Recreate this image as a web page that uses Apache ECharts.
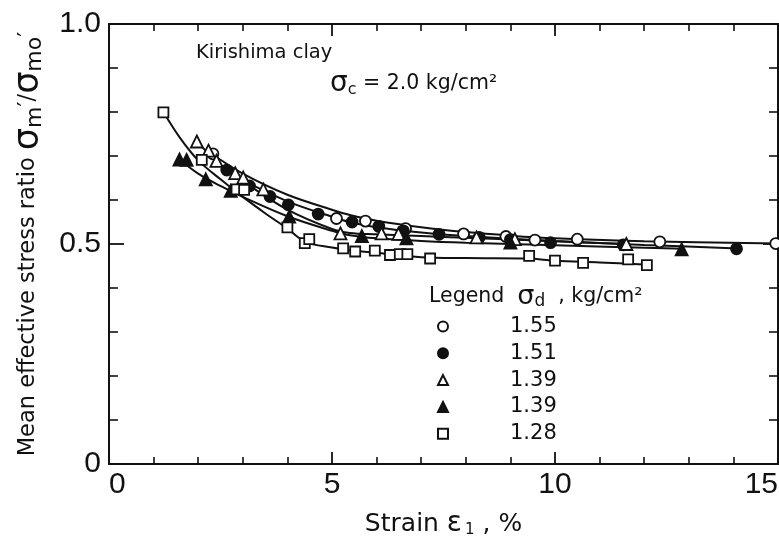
<!DOCTYPE html>
<html><head><meta charset="utf-8">
<script src="https://cdn.jsdelivr.net/npm/echarts/dist/echarts.min.js"></script>
<style>html,body{margin:0;padding:0;background:#fff}#c{width:779px;height:536px}</style>
</head><body><div id="c"></div>
<script>
// ---- data ----
const xTickLabels = ['0', '5', '10', '15'];
const yTickLabels = ['0', '0.5', '1.0'];
const legendLabels = ['1.55', '1.51', '1.39', '1.39', '1.28'];

// measured points [strain %, ratio]
const pts155 = [[2.33,0.705],[5.1,0.558],[5.75,0.552],[6.65,0.535],[7.95,0.523],[8.9,0.517],[9.55,0.509],[10.5,0.511],[12.35,0.505],[14.95,0.501]];
const pts151 = [[2.64,0.668],[3.15,0.632],[3.61,0.608],[4.02,0.589],[4.69,0.568],[5.45,0.55],[6.05,0.54],[6.6,0.53],[7.4,0.522],[8.3,0.515],[9.0,0.51],[9.9,0.503],[11.53,0.498],[14.07,0.489]];
const pts139o = [[1.97,0.733],[2.23,0.712],[2.41,0.689],[2.83,0.661],[3.01,0.651],[3.46,0.624],[5.19,0.524],[6.11,0.524],[6.49,0.523],[8.24,0.515],[9.1,0.511],[11.6,0.5]];
const pts139f = [[1.58,0.692],[1.74,0.691],[2.17,0.647],[2.73,0.621],[4.04,0.562],[5.67,0.518],[6.67,0.513],[9.0,0.503],[12.84,0.488]];
const pts128 = [[1.22,0.799],[2.08,0.691],[2.86,0.624],[3.03,0.623],[4.0,0.538],[4.39,0.502],[4.49,0.511],[5.25,0.49],[5.52,0.483],[5.96,0.485],[6.30,0.475],[6.52,0.477],[6.69,0.477],[7.20,0.467],[9.42,0.473],[10.0,0.462],[10.63,0.457],[11.64,0.465],[12.06,0.452]];

// fitted curves drawn in the figure
const curve155 = [[2.3,0.705],[3,0.66],[4,0.612],[5,0.578],[5.4,0.566],[6,0.553],[7,0.538],[8,0.527],[9,0.519],[10,0.513],[12,0.506],[15,0.501]];
const curve151 = [[2.6,0.67],[3,0.645],[4,0.597],[5,0.562],[5.4,0.55],[6,0.538],[7,0.526],[8,0.518],[10,0.507],[12,0.498],[14.1,0.49]];
const curve139o = [[1.95,0.735],[2.5,0.68],[3,0.643],[4,0.578],[5,0.534],[5.4,0.525],[6,0.522],[7,0.518],[8,0.514],[10,0.506],[11.6,0.5]];
const curve139f = [[1.55,0.695],[2,0.66],[2.5,0.632],[3,0.607],[4,0.563],[5,0.53],[5.4,0.52],[6,0.513],[7,0.507],[8,0.503],[10,0.497],[12.9,0.489]];
const curve128 = [[1.22,0.8],[1.6,0.74],[2,0.69],[2.5,0.647],[3,0.607],[3.5,0.57],[4,0.535],[4.4,0.505],[5,0.492],[5.4,0.486],[6,0.48],[7,0.47],[8,0.468],[9.4,0.467],[10,0.462],[11,0.458],[12.1,0.453]];

// ---- chart ----
const FONT = 'DejaVu Sans';
const INK = '#111';
const chart = echarts.init(document.getElementById('c'), null, {renderer: 'canvas'});

function axisCommon(extra) {
  return Object.assign({
    axisLine: {show: true, onZero: false, lineStyle: {color: INK, width: 2}},
    splitLine: {show: false},
    minorSplitLine: {show: false}
  }, extra);
}

const markerDefs = [
  {name: 's155', data: pts155, symbol: 'circle', size: 11, fill: '#fff'},
  {name: 's151', data: pts151, symbol: 'circle', size: 11, fill: INK},
  {name: 's139o', data: pts139o, symbol: 'triangle', size: 12, fill: '#fff'},
  {name: 's139f', data: pts139f, symbol: 'triangle', size: 12, fill: INK},
  {name: 's128', data: pts128, symbol: 'rect', size: 10, fill: '#fff'}
];
const curves = [curve155, curve151, curve139o, curve139f, curve128];

const series = [];
curves.forEach(c => series.push({
  type: 'line', data: c, smooth: 0.35, symbol: 'none', silent: true,
  lineStyle: {color: INK, width: 2}, z: 2
}));
markerDefs.forEach(m => series.push({
  type: 'scatter', name: m.name, data: m.data, symbol: m.symbol, symbolSize: m.size,
  itemStyle: {color: m.fill, borderColor: INK, borderWidth: 1.8, opacity: 1}, z: 3
}));

const option = {
  animation: false,
  backgroundColor: '#fff',
  grid: {left: 109, right: 1, top: 24, bottom: 72, containLabel: false, outerBoundsMode: 'none'},
  xAxis: [
    axisCommon({
      type: 'value', min: 0, max: 15, interval: 5, position: 'bottom',
      axisTick: {show: true, inside: true, length: 12, lineStyle: {color: INK, width: 1.8}},
      minorTick: {show: true, splitNumber: 5, length: 7, lineStyle: {color: INK, width: 1.6}},
      axisLabel: {show: true, margin: 6, color: INK, fontFamily: 'Liberation Sans', fontSize: 30,
        alignMinLabel: 'left', alignMaxLabel: 'right',
        formatter: v => xTickLabels[Math.round(v / 5)]},
      name: 'Strain {e|ε}{sub|1} , %', nameLocation: 'middle', nameGap: 46,
      nameTextStyle: {color: INK, fontFamily: FONT, fontSize: 25, rich: {
        e: {fontFamily: FONT, fontSize: 28, color: INK},
        sub: {fontFamily: FONT, fontSize: 15, color: INK, verticalAlign: 'bottom', padding: [8, 0, 0, 3]}
      }}
    }),
    axisCommon({
      type: 'value', min: 0, max: 15, interval: 5, position: 'top',
      axisTick: {show: true, inside: true, length: 12, lineStyle: {color: INK, width: 1.8}},
      minorTick: {show: true, splitNumber: 5, length: 7, lineStyle: {color: INK, width: 1.6}},
      axisLabel: {show: false}
    })
  ],
  yAxis: [
    axisCommon({
      type: 'value', min: 0, max: 1, interval: 0.5, position: 'left',
      axisTick: {show: true, inside: true, length: 15, lineStyle: {color: INK, width: 1.8}},
      minorTick: {show: true, splitNumber: 5, length: 9, lineStyle: {color: INK, width: 1.6}},
      axisLabel: {show: true, margin: 8, color: INK, fontFamily: 'Liberation Sans', fontSize: 30,
        formatter: v => yTickLabels[Math.round(v / 0.5)]},
      name: 'Mean effective stress ratio {s|σ}{sub|m}′/{s|σ}{sub|mo}′',
      nameLocation: 'middle', nameRotate: 90, nameGap: 63,
      nameTextStyle: {color: INK, fontFamily: FONT, fontSize: 22.5, rich: {
        s: {fontFamily: FONT, fontSize: 35, color: INK},
        sub: {fontFamily: FONT, fontSize: 22, color: INK, verticalAlign: 'bottom'}
      }}
    }),
    axisCommon({
      type: 'value', min: 0, max: 1, interval: 0.5, position: 'right',
      axisTick: {show: true, inside: true, length: 15, lineStyle: {color: INK, width: 1.8}},
      minorTick: {show: true, splitNumber: 5, length: 9, lineStyle: {color: INK, width: 1.6}},
      axisLabel: {show: false}
    })
  ],
  legend: {
    orient: 'vertical', left: 437, top: 316, padding: 0,
    itemWidth: 10, itemHeight: 10, itemGap: 5.8,
    data: markerDefs.map(m => m.name),
    selectedMode: false,
    formatter: name => '{g|}' + legendLabels[markerDefs.findIndex(m => m.name === name)],
    textStyle: {color: INK, fontFamily: FONT, fontSize: 21, lineHeight: 20,
      rich: {g: {width: 57}}}
  },
  graphic: [
    {type: 'text', left: 196, top: 43, style: {text: 'Kirishima clay', fill: INK, font: '19.5px "DejaVu Sans"'}},
    {type: 'text', left: 330, top: 70, style: {
      text: '{s|σ}{sub|c} = 2.0 kg/cm²', fill: INK, font: '20.5px "DejaVu Sans"',
      rich: {
        s: {fontFamily: FONT, fontSize: 28, fill: INK},
        sub: {fontFamily: FONT, fontSize: 16, fill: INK, verticalAlign: 'bottom'}
      }}},
    {type: 'text', left: 429, top: 283, style: {
      text: 'Legend  {s|σ}{sub|d}  , kg/cm²', fill: INK, font: '20.5px "DejaVu Sans"',
      rich: {
        s: {fontFamily: FONT, fontSize: 27, fill: INK},
        sub: {fontFamily: FONT, fontSize: 17, fill: INK, verticalAlign: 'bottom'}
      }}}
  ],
  series: series
};
chart.setOption(option);
</script>
</body></html>
